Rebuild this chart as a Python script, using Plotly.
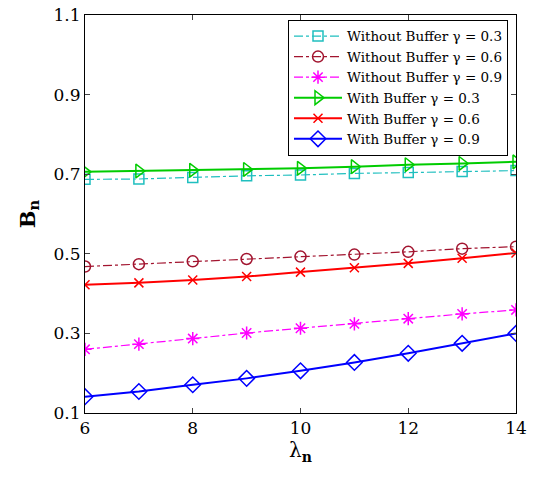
import plotly.graph_objects as go

lam = [6, 7, 8, 9, 10, 11, 12, 13, 14]
wo_03 = [0.687, 0.688, 0.692, 0.696, 0.698, 0.702, 0.704, 0.707, 0.709]
wo_06 = [0.468, 0.474, 0.481, 0.487, 0.493, 0.498, 0.505, 0.513, 0.518]
wo_09 = [0.260, 0.273, 0.287, 0.301, 0.313, 0.324, 0.337, 0.349, 0.359]
w_03 = [0.706, 0.708, 0.710, 0.712, 0.715, 0.719, 0.724, 0.727, 0.731]
w_06 = [0.422, 0.427, 0.434, 0.443, 0.454, 0.465, 0.476, 0.489, 0.502]
w_09 = [0.141, 0.154, 0.171, 0.187, 0.206, 0.227, 0.250, 0.275, 0.300]

names = ["Without Buffer γ = 0.3", "Without Buffer γ = 0.6", "Without Buffer γ = 0.9",
         "With Buffer γ = 0.3", "With Buffer γ = 0.6", "With Buffer γ = 0.9"]
series = [wo_03, wo_06, wo_09, w_03, w_06, w_09]
colors = ["#1fbfbf", "#a2142f", "#ff00ff", "#00cc00", "#ff0000", "#0000ff"]
symbols = ["square-open", "circle-open", "asterisk-open", "triangle-right-open", "x-thin-open", "diamond-open"]
dashes = ["dashdot", "dashdot", "dashdot", "solid", "solid", "solid"]
widths = [1.2, 1.2, 1.2, 2, 2, 2]
sizes = [10, 11, 11, 12, 9, 12]

fig = go.Figure()
for n, s, c, sym, d, w, ms in zip(names, series, colors, symbols, dashes, widths, sizes):
    fig.add_trace(go.Scatter(
        x=lam, y=s, name=n, mode="lines+markers",
        line=dict(color=c, dash=d, width=w),
        marker=dict(symbol=sym, size=ms, color=c, line=dict(color=c, width=1.5)),
    ))

font = "DejaVu Serif"
fig.update_layout(
    width=537, height=480,
    margin=dict(l=85, r=21, t=15, b=67, autoexpand=False),
    paper_bgcolor="white", plot_bgcolor="white",
    font=dict(family=font, size=17, color="black"),
    showlegend=True,
    legend=dict(x=0.471, y=0.988, xanchor="left", yanchor="top",
                bgcolor="white", bordercolor="black", borderwidth=1,
                font=dict(family=font, size=13.5), tracegroupgap=0, itemwidth=48),
    xaxis=dict(range=[6, 14], tickvals=[6, 8, 10, 12, 14], ticks="inside", ticklen=5,
               showline=True, linecolor="black", linewidth=1, mirror="ticks",
               showgrid=False, zeroline=False, automargin=False,
               tickfont=dict(family=font, size=17),
               title=dict(text="λ<sub><b>n</b></sub>", font=dict(family=font, size=20), standoff=5)),
    yaxis=dict(range=[0.1, 1.1], tickvals=[0.1, 0.3, 0.5, 0.7, 0.9, 1.1],
               ticktext=["0.1", "0.3", "0.5", "0.7", "0.9", "1.1"],
               ticks="inside", ticklen=5,
               showline=True, linecolor="black", linewidth=1, mirror="ticks",
               showgrid=False, zeroline=False, automargin=False,
               tickfont=dict(family=font, size=17),
               title=dict(text="<b>B<sub>n</sub></b>", font=dict(family=font, size=21), standoff=12)),
)
fig.write_html("out.html")
